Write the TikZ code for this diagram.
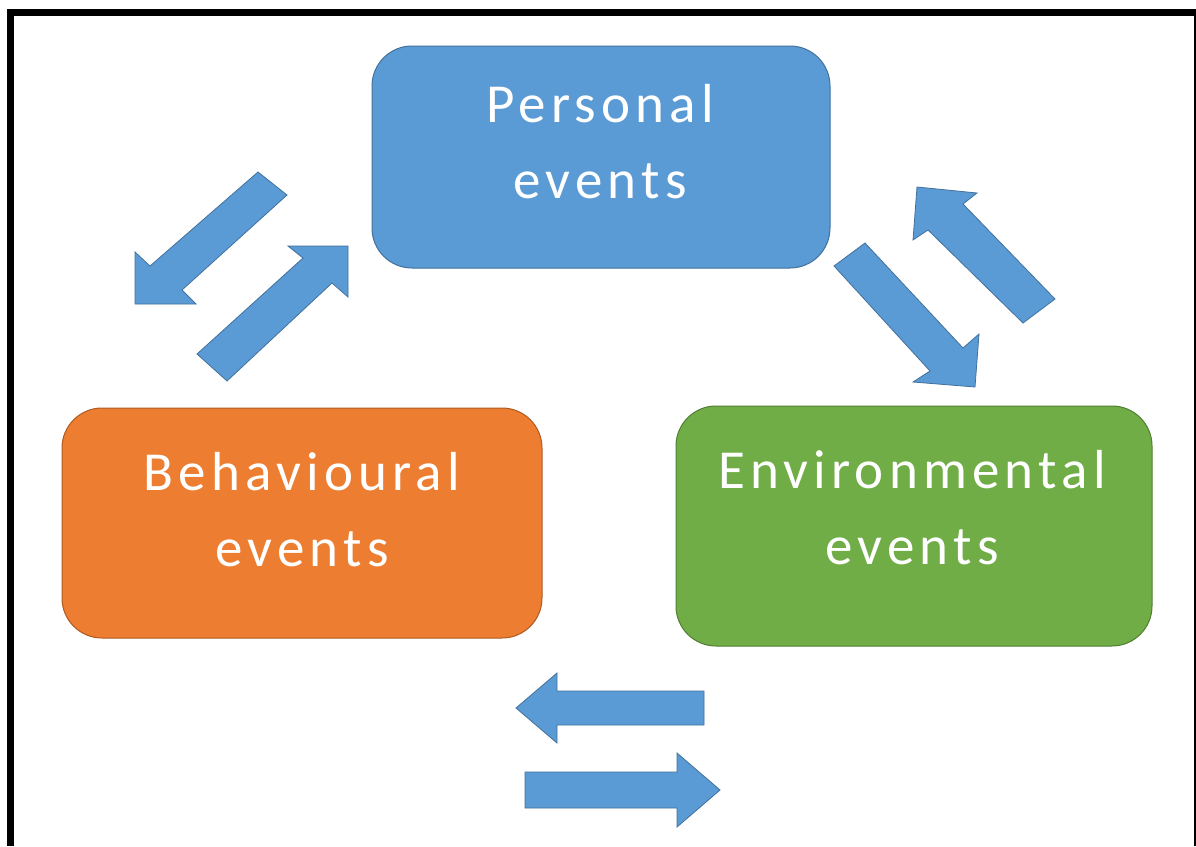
\documentclass[tikz,border=0pt]{standalone}
\usepackage{fontspec}
\setmainfont{Carlito}
\newfontfamily\boxfont[LetterSpace=9.5]{Carlito}
\definecolor{pblue}{HTML}{5B9BD5}
\definecolor{pblueb}{HTML}{41719C}
\definecolor{porange}{HTML}{ED7D31}
\definecolor{porangeb}{HTML}{AE5A21}
\definecolor{pgreen}{HTML}{70AD47}
\definecolor{pgreenb}{HTML}{507E32}
\begin{document}
\begin{tikzpicture}[x=1pt,y=-1pt,
  evbox/.style={rounded corners=40pt, line width=1pt},
  evtext/.style={text=white, align=center, inner sep=0pt,
    font=\boxfont\fontsize{55}{76}\selectfont},
  blockarrow/.style={fill=pblue, draw=pblueb, line width=0.8pt, line join=miter}]
\useasboundingbox (0,0) rectangle (1196,846);
\fill[white] (0,0) rectangle (1196,846);
% frame
\fill[black] (7,9) rectangle (1196,16);
\fill[black] (7,9) rectangle (14,846);
\fill[black] (1194,9) rectangle (1196,846);
% boxes
\draw[evbox, fill=pblue, draw=pblueb] (372,46) rectangle (830,268);
\node[evtext] (pers) at (600,142) {Personal\\events};
\draw[evbox, fill=porange, draw=porangeb] (62,408) rectangle (542,638);
\node[evtext] (beh) at (302,510) {Behavioural\\events};
\draw[evbox, fill=pgreen, draw=pgreenb] (676,406) rectangle (1152,646);
\node[evtext] (env) at (912,508) {Environmental\\events};
% left pair
\draw[blockarrow] (258,172) -- (287,195) -- (182,290) -- (196,304) -- (135,304) -- (135,252) -- (150,266) -- cycle;
\draw[blockarrow] (197,354) -- (227,381) -- (332,283) -- (348,297) -- (348,246) -- (288,246) -- (303,258) -- cycle;
% right pair
\draw[blockarrow] (834,266) -- (865,243) -- (963,348) -- (979,334) -- (975,387) -- (913,382) -- (930,371) -- cycle;
\draw[blockarrow] (1055,299) -- (1023,323) -- (928,230) -- (913,240) -- (917,187) -- (977,193) -- (963,204) -- cycle;
% bottom pair
\draw[blockarrow] (704,691) -- (557,691) -- (557,673) -- (516,708) -- (557,743) -- (557,725) -- (704,725) -- cycle;
\draw[blockarrow] (525,772) -- (677,772) -- (677,753) -- (720,790) -- (677,827) -- (677,808) -- (525,808) -- cycle;
\end{tikzpicture}
\end{document}
